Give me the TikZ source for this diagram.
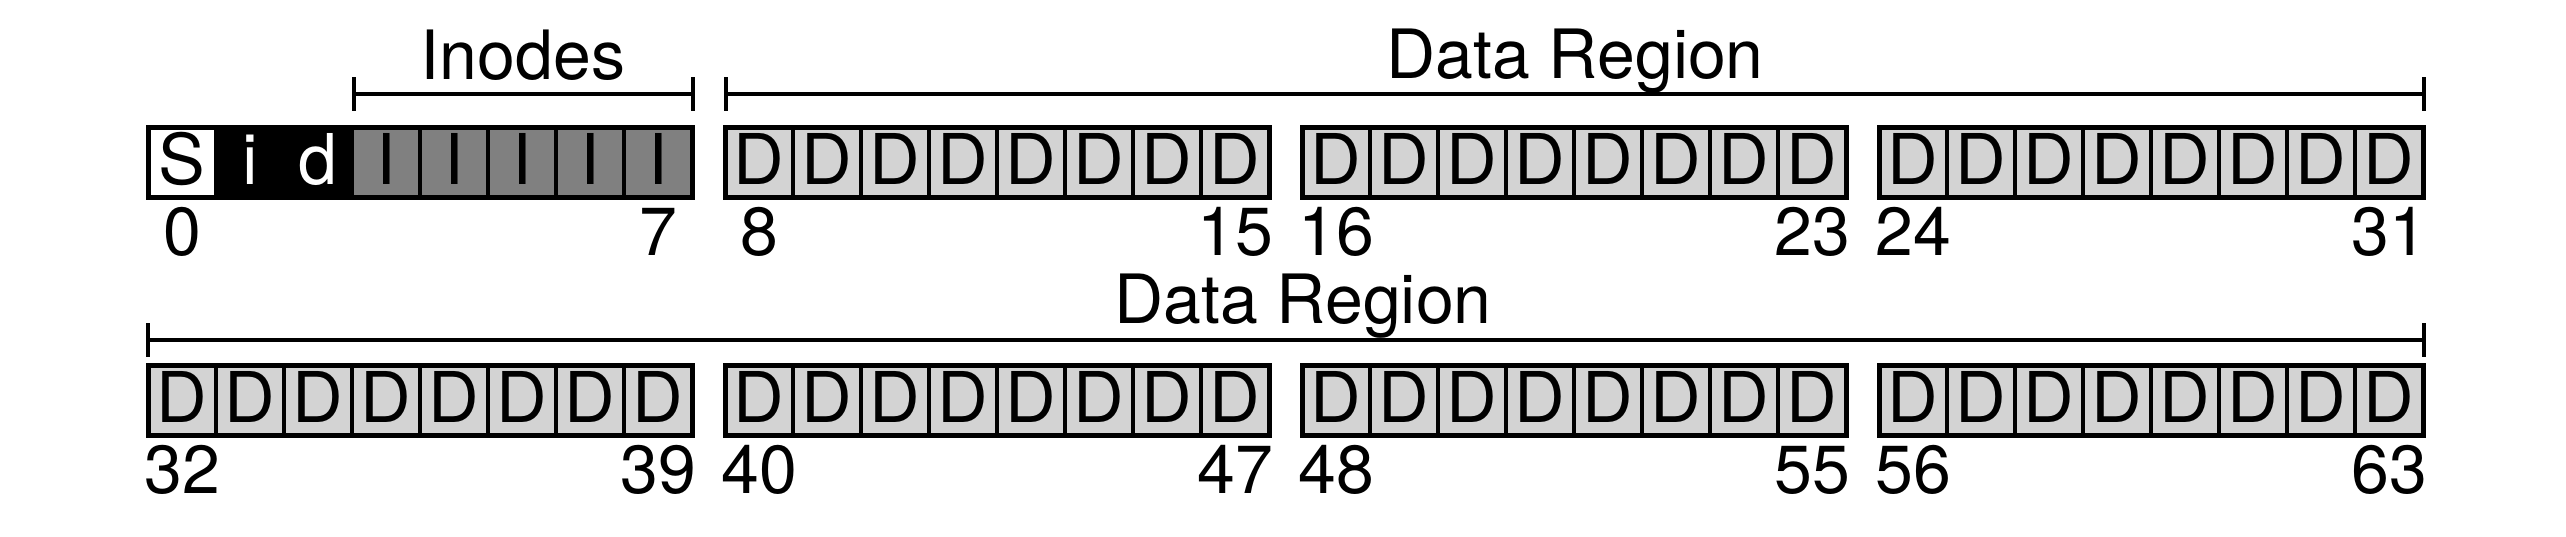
\documentclass[tikz,border=0pt]{standalone}
\usepackage{fontspec}
\setmainfont{TeX Gyre Heros}
\definecolor{dgray}{HTML}{D3D3D3}
\definecolor{igray}{HTML}{808080}
\begin{document}
\begin{tikzpicture}[x=0.5pt,y=-0.5pt,
  cellbox/.style={draw=black, line width=1.75pt, inner sep=0pt, outer sep=0pt,
    minimum width=34pt, minimum height=35pt, text height=22pt, text depth=0pt,
    font=\fontsize{35}{40}\selectfont},
  dcell/.style={cellbox, fill=dgray},
  icell/.style={cellbox, fill=igray},
  bcell/.style={cellbox, fill=black, text=white},
  wcell/.style={cellbox, fill=white},
  grp/.style={draw=black, line width=2.5pt},
  num/.style={anchor=base, inner sep=0pt, font=\fontsize{34}{40}\selectfont},
  lbl/.style={anchor=base, inner sep=0pt, font=\fontsize{34}{40}\selectfont},
  brk/.style={line width=2.25pt}]
\fill[white] (0,0) rectangle (2566,536);
\useasboundingbox (0,0) rectangle (2566,536);
% group 0
\node[wcell] (c0) at (182,162) {S};
\node[bcell] (c1) at (250,162) {i};
\node[bcell] (c2) at (318,162) {d};
\foreach \i in {3,...,7} \node[icell] (c\i) at ({182+68*\i},162) {I};
% data groups
\foreach \g in {1,...,7}{
  \pgfmathtruncatemacro\col{mod(\g,4)}
  \pgfmathsetmacro\yy{\g<4 ? 162 : 400}
  \foreach \i in {0,...,7}{
    \pgfmathtruncatemacro\n{8*\g+\i}
    \node[dcell] (c\n) at ({182+577*\col+68*\i},\yy) {D};
  }
}
% group borders and numbers
\foreach \g in {0,...,7}{
  \pgfmathtruncatemacro\first{8*\g}
  \pgfmathtruncatemacro\last{8*\g+7}
  \pgfmathsetmacro\by{\g<4 ? 255 : 493}
  \draw[grp] (c\first.north west) rectangle (c\last.south east);
  \node[num] (n\first) at (c\first |- 0,\by) {\first};
  \node[num] (n\last) at (c\last |- 0,\by) {\last};
}
% brackets
\coordinate (ia) at (354,94);
\coordinate (ib) at (693,94);
\draw[brk] (ia) -- (ib);
\draw[brk] (ia) ++(0,-17) -- ++(0,34);
\draw[brk] (ib) ++(0,-17) -- ++(0,34);
\node[lbl] (inodes) at (523,79) {Inodes};
\coordinate (da) at (726,94);
\coordinate (db) at (2424,94);
\draw[brk] (da) -- (db);
\draw[brk] (da) ++(0,-17) -- ++(0,34);
\draw[brk] (db) ++(0,-17) -- ++(0,34);
\node[lbl] (dr1) at (1575,78) {Data Region};
\coordinate (ea) at (148,340);
\coordinate (eb) at (2424,340);
\draw[brk] (ea) -- (eb);
\draw[brk] (ea) ++(0,-17) -- ++(0,34);
\draw[brk] (eb) ++(0,-17) -- ++(0,34);
\node[lbl] (dr2) at (1303,323) {Data Region};
\end{tikzpicture}
\end{document}
